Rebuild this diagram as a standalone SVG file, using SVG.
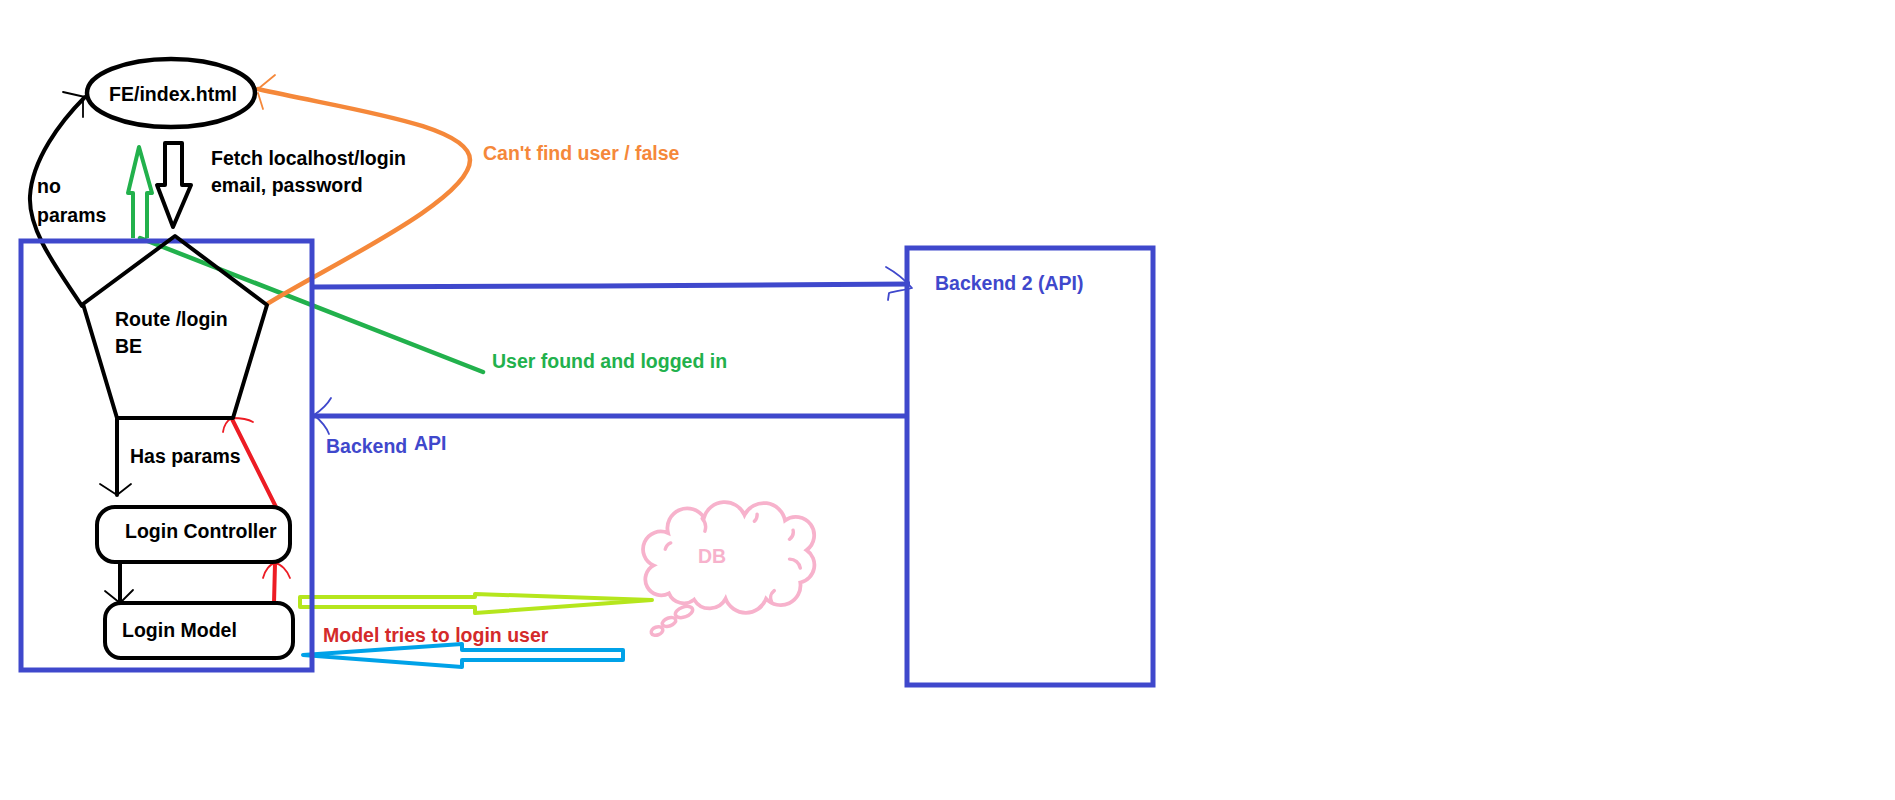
<svg xmlns="http://www.w3.org/2000/svg" width="1895" height="800" viewBox="0 0 1895 800">
<style>
text{font-family:"Liberation Sans",Arial,sans-serif;font-weight:bold;font-size:19.5px}
.k{fill:#000}
.blk{fill:none;stroke:#000;stroke-width:4;stroke-linejoin:round;stroke-linecap:round}
.thin{fill:none;stroke-width:1.8;stroke-linecap:round;stroke-linejoin:round}
.blu{fill:none;stroke:#3f48cc;stroke-width:5}
.bt{fill:#3f48cc}
.pk{fill:none;stroke:#f7b2cc;stroke-linecap:round}
</style>
<rect width="1895" height="800" fill="#fff"/>

<g id="connectors">
  <path class="blk" d="M82,306 C60,272 28,232 30,196 C32,160 60,122 85,97"/>
  <path class="thin" stroke="#000" d="M63,92 L85,97 M83,100 L83,117"/>
  <polygon class="blk" stroke-width="4.5" points="165,143 182,143 182,185 191,185 173,227 157,185 165,185"/>
  <polyline fill="none" stroke="#22b14c" stroke-width="4" stroke-linejoin="round" points="133,238 133,193 128,193 139,147 152,193 147,193 147,238"/>
  <line x1="140" y1="238" x2="483" y2="372" stroke="#22b14c" stroke-width="4.5" stroke-linecap="round"/>
  <path d="M267,304 C330,265 470,200 470,160 C470,125 350,110 258,89" fill="none" stroke="#f5883a" stroke-width="4.5" stroke-linecap="round"/>
  <path class="thin" stroke="#f5883a" d="M275,75 L258,89 M258,93 L263,109"/>
  <line class="blk" x1="117" y1="419" x2="117" y2="495"/>
  <path class="thin" stroke="#000" d="M100,484 L117,495 L131,484"/>
  <line class="blk" x1="120" y1="562" x2="120" y2="602"/>
  <path class="thin" stroke="#000" d="M105,591 L120,603 L133,590"/>
  <line x1="276" y1="507" x2="232" y2="419" stroke="#ed1c24" stroke-width="4" stroke-linecap="round"/>
  <path class="thin" stroke="#ed1c24" d="M223,432 C224,425 228,420 232,418 C240,418 248,419 253,422"/>
  <line x1="274" y1="603" x2="275" y2="564" stroke="#ed1c24" stroke-width="4" stroke-linecap="round"/>
  <path class="thin" stroke="#ed1c24" d="M263,578 C265,570 270,564 275,563 C281,564 287,570 290,578"/>
  <path class="blu" d="M312,287 L600,286 L910,284"/>
  <path class="thin" stroke="#3f48cc" d="M886,267 C895,272 905,280 912,288 C905,290 895,291 889,293 L888,300"/>
  <line class="blu" x1="907" y1="416" x2="312" y2="416"/>
  <path class="thin" stroke="#3f48cc" d="M331,398 C327,405 320,411 314,415 C320,420 326,426 329,434"/>
  <polygon fill="none" stroke="#b5e61d" stroke-width="4" stroke-linejoin="round" points="300,597 475,597 475,594 652,600 475,613 475,607 300,607"/>
  <polygon fill="none" stroke="#00a2e8" stroke-width="4" stroke-linejoin="round" points="303,655 462,644 462,650 623,650 623,660 462,660 462,667"/>
</g>

<g id="backend-box">
  <rect class="blu" x="21" y="241" width="291" height="429"/>
  <text class="bt" x="326" y="453">Backend</text>
  <text class="bt" x="414" y="450" font-size="22">API</text>
</g>

<g id="fe-index">
  <ellipse cx="171" cy="93" rx="84" ry="34" fill="none" stroke="#000" stroke-width="4.5"/>
  <text class="k" x="173" y="101" text-anchor="middle">FE/index.html</text>
</g>

<g id="route-login">
  <polygon class="blk" points="175,236 267,305 233,418 117,418 83,304"/>
  <text class="k" x="115" y="326">Route /login</text>
  <text class="k" x="115" y="353">BE</text>
</g>

<g id="login-controller">
  <rect class="blk" x="97" y="507" width="193" height="55" rx="18"/>
  <text class="k" x="125" y="538">Login Controller</text>
</g>

<g id="login-model">
  <rect class="blk" x="105" y="603" width="188" height="55" rx="16"/>
  <text class="k" x="122" y="637">Login Model</text>
</g>

<g id="backend2">
  <rect class="blu" x="907" y="248" width="246" height="437"/>
  <text class="bt" x="935" y="290">Backend 2 (API)</text>
</g>

<g id="db">
  <g transform="translate(731 560) scale(0.9) translate(-731 -560)">
    <path class="pk" stroke-width="4.2" d="M662,597 A16,16 0 0 1 645,566 A18,18 0 0 1 661,530 A22,22 0 0 1 701,513 A24,24 0 0 1 746,510 A24,24 0 0 1 791,516 A20,20 0 0 1 815,549 A20,20 0 0 1 808,585 A22,22 0 0 1 770,603 A24,24 0 0 1 725,603 A20,20 0 0 1 690,604 A18,18 0 0 1 662,597 Z"/>
    <path class="pk" stroke-width="3.8" d="M658,548 A10,10 0 0 1 664,541 M699,514 A14,14 0 0 1 702,528 M760,509 A10,10 0 0 1 757,517 M800,527 A10,10 0 0 1 796,537 M796,559 A12,12 0 0 1 808,569 M776,606 A10,10 0 0 1 779,594"/>
  </g>
  <ellipse class="pk" cx="684" cy="612" rx="9" ry="5" transform="rotate(-20 684 612)" stroke-width="3.5"/>
  <ellipse class="pk" cx="669" cy="622" rx="7" ry="4" transform="rotate(-20 669 622)" stroke-width="3.5"/>
  <ellipse class="pk" cx="657" cy="631" rx="6" ry="4" transform="rotate(-20 657 631)" stroke-width="3.5"/>
  <text x="698" y="563" fill="#f7b2cc" font-size="18">DB</text>
</g>

<g id="labels">
  <text class="k" x="211" y="165">Fetch localhost/login</text>
  <text class="k" x="211" y="192">email, password</text>
  <text class="k" x="37" y="193">no</text>
  <text class="k" x="37" y="222">params</text>
  <text class="k" x="130" y="463">Has params</text>
  <text x="483" y="160" fill="#f5883a">Can't find user / false</text>
  <text x="492" y="368" fill="#22b14c">User found and logged in</text>
  <text x="323" y="642" fill="#d42a2a">Model tries to login user</text>
</g>
</svg>
